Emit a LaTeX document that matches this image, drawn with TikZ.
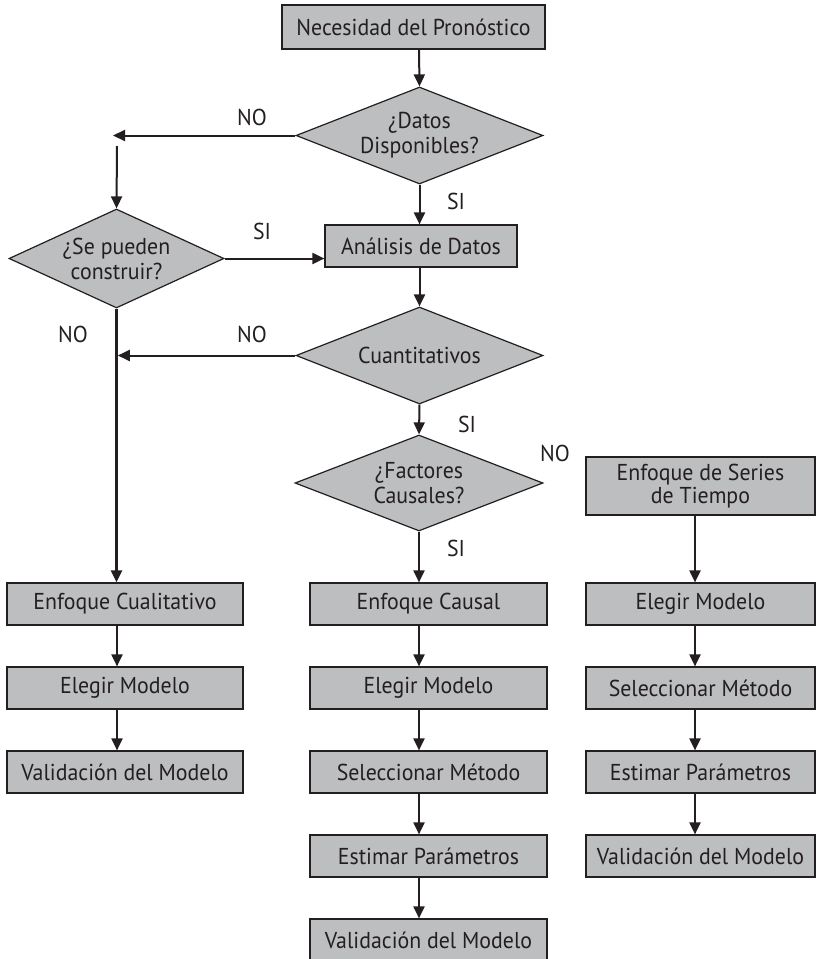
\documentclass[tikz,border=0pt]{standalone}
\usepackage{fontspec}
\setmainfont{PT Sans}[FakeStretch=0.95]
\usetikzlibrary{shapes.geometric,arrows.meta}
\definecolor{boxfill}{HTML}{BDBEC0}
\definecolor{ink}{HTML}{231F20}
\begin{document}
\begin{tikzpicture}[x=1pt,y=-1pt,
  every node/.style={text=ink, font=\fontsize{23}{25}\selectfont},
  box/.style={draw=ink, fill=boxfill, line width=1.2pt, minimum height=42pt, inner sep=0pt, align=center},
  dia/.style={draw=ink, fill=boxfill, line width=1.2pt, diamond, inner sep=0pt},
  arr/.style={draw=ink, line width=2pt, -{Triangle[length=12pt,width=11pt]}},
  lbl/.style={inner sep=0pt, align=center}
]
\useasboundingbox (0,0) rectangle (816,959);

% top column
\node[box, minimum width=263pt, minimum height=44pt] (nec) at (413.5,27) {Necesidad del Pronóstico};
\node[dia, minimum width=247pt, minimum height=97pt,
      label={[lbl]center:{¿Datos\\Disponibles?}}] (datos) at (419.5,135.5) {};
\node[dia, minimum width=215pt, minimum height=99pt,
      label={[lbl]center:{¿Se pueden\\construir?}}] (sep) at (116.5,258.5) {};
\node[box, minimum width=192pt] (anal) at (421,246) {Análisis de Datos};
\node[dia, minimum width=247pt, minimum height=97pt,
      label={[lbl]center:{Cuantitativos}}] (cuant) at (419.5,355.5) {};
\node[dia, minimum width=248pt, minimum height=96pt,
      label={[lbl]center:{¿Factores\\Causales?}}] (fact) at (419,483) {};
\node[box, minimum width=229pt, minimum height=58pt,
      font=\fontsize{23}{23}\selectfont] (series) at (700.5,486) {Enfoque de Series\\de Tiempo};

% column 1
\node[box, minimum width=236pt] (a1) at (125,604) {Enfoque Cualitativo};
\node[box, minimum width=236pt] (a2) at (125,688) {Elegir Modelo};
\node[box, minimum width=236pt] (a3) at (125,772) {Validación del Modelo};
% column 2
\node[box, minimum width=237pt] (b1) at (428.5,604) {Enfoque Causal};
\node[box, minimum width=237pt] (b2) at (428.5,688) {Elegir Modelo};
\node[box, minimum width=237pt] (b3) at (428.5,772) {Seleccionar Método};
\node[box, minimum width=237pt] (b4) at (428.5,856) {Estimar Parámetros};
\node[box, minimum width=237pt] (b5) at (428.5,940) {Validación del Modelo};
% column 3
\node[box, minimum width=229pt] (c1) at (700.5,604) {Elegir Modelo};
\node[box, minimum width=229pt] (c2) at (700.5,688) {Seleccionar Método};
\node[box, minimum width=229pt] (c3) at (700.5,772) {Estimar Parámetros};
\node[box, minimum width=229pt] (c4) at (700.5,856) {Validación del Modelo};

% arrow columns
\coordinate (xa) at (117,0);
\coordinate (xb) at (419,0);
\coordinate (xc) at (695,0);
\coordinate (noend) at (113,135.5);
\coordinate (nostart) at (117,146);

% labels
\node[lbl] (l1) at (252,117) {NO};
\node[lbl] (l2) at (456,201) {SI};
\node[lbl] (l3) at (262,231) {SI};
\node[lbl] (l4) at (73,334) {NO};
\node[lbl] (l5) at (252,334) {NO};
\node[lbl] (l6) at (467,424) {SI};
\node[lbl] (l7) at (555,453) {NO};
\node[lbl] (l8) at (456,548) {SI};

% connectors
\draw[arr] (nec.south -| xb) -- (datos.north);
\draw[arr] (datos.west) -- (noend);
\draw[arr] (nostart) -- (sep.north);
\draw[arr] (datos.south) -- (anal.north -| datos.south);
\draw[arr] (sep.east) -- (sep.east -| anal.west);
\draw[arr] (anal.south -| cuant.north) -- (cuant.north);
\draw[arr, line width=2.6pt] (sep.south) -- (a1.north -| sep.south);
\draw[arr] (cuant.west) -- ([xshift=1.3pt]cuant.west -| sep.south);
\draw[arr] (cuant.south) -- (fact.north);
\draw[arr] (fact.south) -- (b1.north -| fact.south);
\draw[arr] (series.south -| xc) -- (c1.north -| xc);

\draw[arr] (a1.south -| xa) -- (a2.north -| xa);
\draw[arr] (a2.south -| xa) -- (a3.north -| xa);

\draw[arr] (b1.south -| xb) -- (b2.north -| xb);
\draw[arr] (b2.south -| xb) -- (b3.north -| xb);
\draw[arr] (b3.south -| xb) -- (b4.north -| xb);
\draw[arr] (b4.south -| xb) -- (b5.north -| xb);

\draw[arr] (c1.south -| xc) -- (c2.north -| xc);
\draw[arr] (c2.south -| xc) -- (c3.north -| xc);
\draw[arr] (c3.south -| xc) -- (c4.north -| xc);
\end{tikzpicture}
\end{document}
